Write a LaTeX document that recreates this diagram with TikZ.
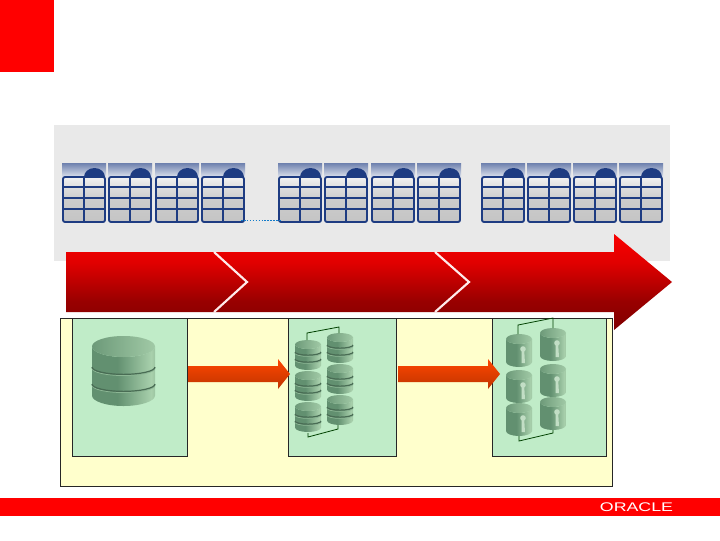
\documentclass[tikz,border=0pt]{standalone}
\usepackage{fontspec}
\setmainfont{Liberation Sans}
\usetikzlibrary{calc}
\definecolor{orared}{RGB}{255,0,0}
\definecolor{panelc}{RGB}{233,233,233}
\definecolor{tblc}{RGB}{30,60,130}
\definecolor{yelc}{RGB}{255,255,204}
\definecolor{grnc}{RGB}{192,236,200}
\definecolor{drumd}{RGB}{98,144,112}
\definecolor{druml}{RGB}{168,208,172}
\pgfdeclarehorizontalshading{drumbody}{100bp}{color(0bp)=(drumd!110!druml);color(25bp)=(drumd);color(45bp)=(drumd);color(72bp)=(druml);color(90bp)=(drumd);color(100bp)=(drumd)}
\pgfdeclareverticalshading{bigarrow}{100bp}{color(0bp)=(red!50!black);color(25bp)=(red!50!black);color(40bp)=(red!60!black);color(60bp)=(red!88!black);color(72bp)=(red!96!black);color(100bp)=(red!96!black)}
\pgfdeclareverticalshading{tblcells}{100bp}{color(0bp)=(black!23);color(25bp)=(black!23);color(50bp)=(black!20);color(62bp)=(black!14);color(75bp)=(black!5);color(100bp)=(black!5)}
\tikzset{
 wire/.style={line width=.7pt,draw=black!85},
 bracketl/.style={line width=.6pt,draw=green!25!black},
 gridl/.style={draw=tblc,line width=1.4pt,line cap=round},
 chevron/.style={draw=white!92!red,line width=1.6pt},
 flowarr/.style={top color=orange!55!red,bottom color=orange!55!red!75!black},
 pics/dbtable/.style={code={
  \shade[top color=tblc!65!white,bottom color=tblc!15!white] (0,0) rectangle (44,14);
  \shade[shading=tblcells,rounded corners=1.5pt] (1,14) rectangle (43,59);
  \fill[tblc] (22,14) arc[start angle=180,end angle=360,x radius=10.5,y radius=9];
  \draw[gridl,rounded corners=1.5pt] (1,14)--(1,59)--(43,59)--(43,14)--cycle;
  \foreach \r in {24,35,46}{\draw[gridl] (1,\r)--(43,\r);}
  \draw[gridl] (22,14)--(22,59);
 }},
 pics/keyhole/.style={code={
  \fill[druml!70!white] (0,0) circle (2.8);
  \fill[druml!70!white] (-1.4,1)--(1.2,1)--(2,14)--(-1.4,14)--cycle;
 }}}
\newcommand{\drum}[6]{
 \begin{scope}[shift={(#1,#2)}]
  \shade[shading=drumbody] (0,#5)--(0,#4-#5) arc[start angle=180,end angle=0,x radius=#3/2,y radius=#5]--(#3,#5) arc[start angle=0,end angle=180,x radius=#3/2,y radius=#5]--cycle;
  \foreach \b in {#6}{
   \draw[drumd!40!druml,line width=.6pt] (0,\b+1.2) arc[start angle=180,end angle=0,x radius=#3/2,y radius=.7*#5];
   \draw[drumd!75!black,line width=.9pt] (0,\b) arc[start angle=180,end angle=0,x radius=#3/2,y radius=.7*#5];}
  \shade[left color=drumd!85!druml,right color=druml!90!drumd] (#3/2,#5) ellipse[x radius=#3/2,y radius=#5];
 \end{scope}}
\begin{document}
\begin{tikzpicture}[x=.75pt,y=-.75pt]
\useasboundingbox (0,0) rectangle (720,540);
\fill[white] (0,0) rectangle (720,540);
\fill[orared] (0,0) rectangle (54,72);
\fill[panelc] (54,125) rectangle (670,261);
\foreach \x in {62,108,155,201,278,324,371,417,481,527,573,619}{\pic at (\x,163) {dbtable};}
\draw[cyan!60!blue,line width=1.2pt,densely dotted] (241,220.5)--(282,220.5);
\shade[shading=bigarrow] (66,252)--(614,252)--(614,234)--(672,282)--(614,330)--(614,312)--(66,312)--cycle;
\draw[chevron] (214,252)--(247,282)--(214,312);
\draw[chevron] (435,252)--(469,282)--(435,312);
\filldraw[fill=yelc,wire] (60,318) rectangle (612,486);
\filldraw[fill=grnc,wire] (72,318) rectangle (187,456);
\filldraw[fill=grnc,wire] (288,318) rectangle (396,456);
\filldraw[fill=grnc,wire] (492,318) rectangle (606,456);
\foreach \x in {188,398}{
 \shade[flowarr] (\x,366)--(\x+90,366)--(\x+90,359)--(\x+102,374)--(\x+90,389)--(\x+90,382)--(\x,382)--cycle;}
\drum{92}{336}{63}{70}{10.5}{{31},{48}}
\foreach \x/\y in {295/340,295/371,295/402,327/333,327/364,327/395}{\drum{\x}{\y}{26}{30}{4.5}{{12},{19}}}
\draw[bracketl] (307,340)--(307,333)--(339,327)--(339,333);
\draw[bracketl] (308,433)--(308,437)--(338,429)--(338,425);
\foreach \x/\y in {506/334,506/370,506/403,540/328,540/364,540/397}{
 \drum{\x}{\y}{26}{33}{5}{}
 \pic at (\x+17,\y+15) {keyhole};}
\draw[bracketl] (518,334)--(518,325)--(553,318)--(553,328);
\draw[bracketl] (519,436)--(519,441)--(553,433)--(553,430);
\fill[orared] (0,498) rectangle (720,516);
\node[text=white,font=\fontsize{9.4}{10}\selectfont,xscale=1.42,inner sep=0pt] (oracle) at (636.5,507.5) {ORACLE};
\end{tikzpicture}
\end{document}
